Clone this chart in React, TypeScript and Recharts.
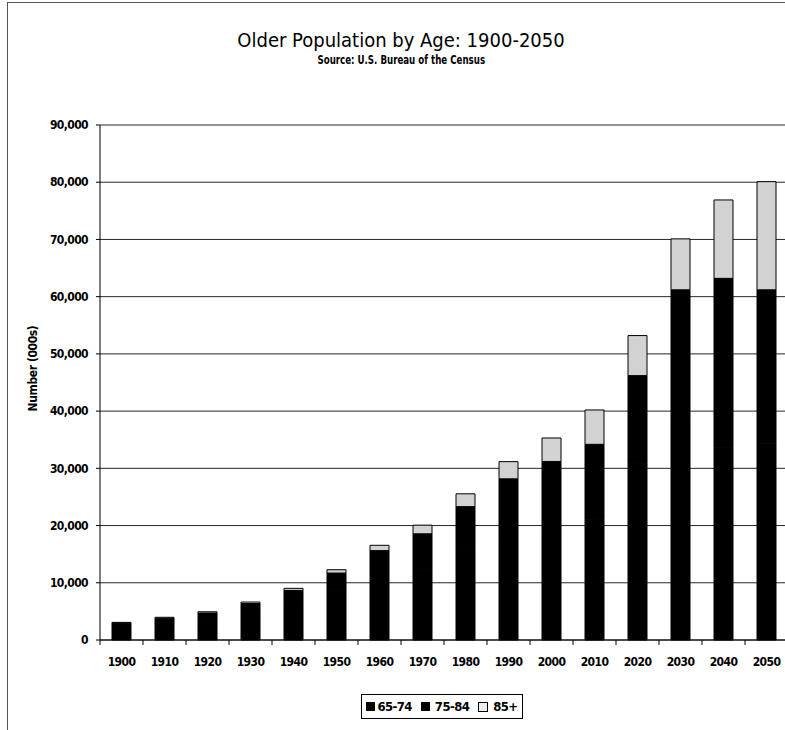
import { BarChart, Bar, XAxis, YAxis, CartesianGrid } from 'recharts';

// values in thousands (65-74 / 75-84 split estimated, both drawn black)
const years = ['1900', '1910', '1920', '1930', '1940', '1950', '1960', '1970', '1980', '1990', '2000', '2010', '2020', '2030', '2040', '2050'];
const age65to74 = [2190, 2790, 3460, 4720, 6380, 8420, 10990, 12440, 15580, 18110, 18300, 21000, 30900, 38000, 33700, 34400];
const age75to84 = [770, 1010, 1260, 1640, 2280, 3280, 4630, 6120, 7730, 10060, 12900, 13200, 15300, 23200, 29500, 26800];
const age85plus = [120, 170, 210, 270, 370, 580, 930, 1510, 2240, 3000, 4100, 6000, 7000, 8900, 13700, 18900];
const yTicks = [0, 10000, 20000, 30000, 40000, 50000, 60000, 70000, 80000, 90000];

const data = years.map((year, i) => ({
  year,
  a: age65to74[i],
  b: age75to84[i],
  c: age85plus[i],
}));

const FONT = "'DejaVu Sans Condensed', 'Liberation Sans Narrow', sans-serif";

const XTick = (props: any) => {
  const { x, y, payload } = props;
  return (
    <g>
      <line x1={x - 21.5} y1={y - 8} x2={x - 21.5} y2={y - 3} stroke="#000" />
      <text x={x} y={y + 18} textAnchor="middle" fontFamily={FONT} fontWeight="bold" fontSize={12} letterSpacing={-0.6} fill="#000">
        {payload.value}
      </text>
    </g>
  );
};

const narrow = { display: 'inline-block', transform: 'scaleX(0.74)' };

const App = () => {
  return (
    <div style={{ position: 'absolute', left: 0, top: 0, width: 785, height: 730, overflow: 'hidden', background: '#fff' }}>
      <div style={{ position: 'absolute', left: 7, top: 2, width: 800, height: 800, borderLeft: '1px solid #555', borderTop: '1px solid #555' }} />
      <div style={{ position: 'absolute', left: 0, width: 802, top: 28, textAlign: 'center', fontFamily: FONT, fontSize: 20, color: '#000' }}>
        Older Population by Age: 1900-2050
      </div>
      <div style={{ position: 'absolute', left: 0, width: 802, top: 52, textAlign: 'center', fontFamily: FONT, fontSize: 13, fontWeight: 'bold', color: '#000' }}>
        <span style={narrow}>Source: U.S. Bureau of the Census</span>
      </div>
      <div style={{ position: 'absolute', left: 0, top: 0 }}>
        <BarChart width={790} height={730} data={data} margin={{ top: 125, right: 2, bottom: 60, left: 0 }} barCategoryGap={0}>
          <CartesianGrid vertical={false} stroke="#000" strokeOpacity={0.85} />
          <XAxis
            dataKey="year"
            height={30}
            axisLine={{ stroke: '#000' }}
            tickLine={false}
            tick={<XTick />}
            interval={0}
          />
          <YAxis
            width={100}
            domain={[0, 90000]}
            ticks={yTicks}
            interval={0}
            axisLine={{ stroke: '#000' }}
            tickLine={{ stroke: '#000' }}
            tickSize={4}
            tickMargin={8}
            tickFormatter={(v: number) => v.toLocaleString('en-US')}
            tick={{ fontFamily: FONT, fontWeight: 'bold', fontSize: 12, letterSpacing: -0.6, fill: '#000' }}
            label={{
              value: 'Number (000s)',
              angle: -90,
              position: 'insideLeft',
              offset: 33,
              dy: -14,
              style: { fontFamily: FONT, fontWeight: 'bold', fontSize: 12, letterSpacing: -0.4, fill: '#000', textAnchor: 'middle' },
            }}
          />
          <Bar dataKey="a" stackId="s" fill="#000" stroke="#000" barSize={19} isAnimationActive={false} />
          <Bar dataKey="b" stackId="s" fill="#000" stroke="#000" barSize={19} isAnimationActive={false} />
          <Bar dataKey="c" stackId="s" fill="#d2d2d2" stroke="#000" barSize={19} isAnimationActive={false} />
        </BarChart>
      </div>
      <div
        style={{
          position: 'absolute',
          left: 361,
          top: 694,
          width: 160,
          height: 23,
          border: '1px solid #000',
          display: 'flex',
          alignItems: 'center',
          justifyContent: 'center',
          gap: 9,
          fontFamily: FONT,
          fontWeight: 'bold',
          fontSize: 13,
          letterSpacing: -0.6,
          color: '#000',
        }}
      >
        <span style={{ display: 'flex', alignItems: 'center', gap: 2 }}>
          <span style={{ width: 9, height: 9, background: '#000', display: 'inline-block' }} />65-74
        </span>
        <span style={{ display: 'flex', alignItems: 'center', gap: 5 }}>
          <span style={{ width: 9, height: 9, background: '#000', display: 'inline-block' }} />75-84
        </span>
        <span style={{ display: 'flex', alignItems: 'center', gap: 5 }}>
          <span style={{ width: 8, height: 8, background: '#eee', border: '1px solid #000', display: 'inline-block' }} />85+
        </span>
      </div>
    </div>
  );
};

export default App;
